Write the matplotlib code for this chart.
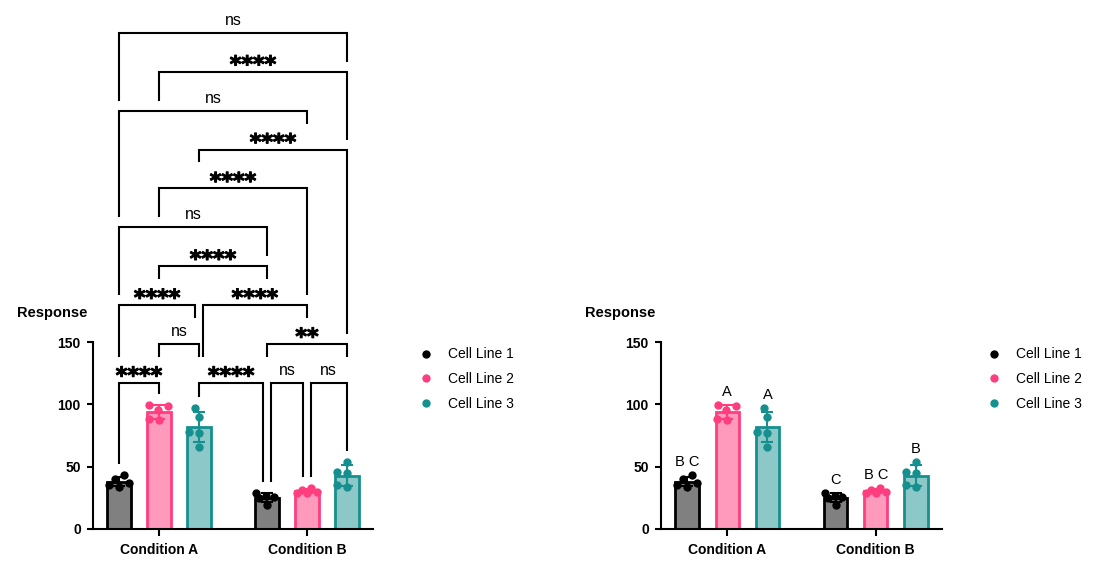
import matplotlib
matplotlib.use('Agg')
import matplotlib.pyplot as plt
from matplotlib.lines import Line2D
import matplotlib.patheffects as pe
import numpy as np

plt.rcParams['font.family'] = ['Liberation Sans', 'DejaVu Sans']

W, H, DPI = 1112, 571, 100

# ---------------- data ----------------
groups = ['Condition A', 'Condition B']
series = ['Cell Line 1', 'Cell Line 2', 'Cell Line 3']

cond_a_line1 = [40.5, 43.0, 37.0, 34.0, 35.5]
cond_a_line2 = [98.5, 99.5, 95.5, 87.5, 88.0]
cond_a_line3 = [97.0, 89.5, 78.0, 77.0, 66.0]
cond_b_line1 = [25.5, 29.0, 26.5, 19.5, 25.0]
cond_b_line2 = [31.0, 33.0, 30.0, 28.5, 29.0]
cond_b_line3 = [54.0, 45.5, 45.0, 34.0, 35.5]

values = [[cond_a_line1, cond_a_line2, cond_a_line3],
          [cond_b_line1, cond_b_line2, cond_b_line3]]

# bars indexed 0..5 : A1 A2 A3 B1 B2 B3
comparison_pairs = [(0, 1), (2, 3), (3, 4), (4, 5), (1, 2), (3, 5), (0, 2), (2, 4),
                    (1, 3), (0, 3), (1, 4), (2, 5), (0, 4), (1, 5), (0, 5)]
comparison_labels = ['****', '****', 'ns', 'ns', 'ns', '**', '****', '****',
                     '****', 'ns', '****', '****', 'ns', '****', 'ns']
comparison_levels = [0, 0, 0, 0, 1, 1, 2, 2, 3, 4, 5, 6, 7, 8, 9]

compact_letters = ['B C', 'A', 'A', 'C', 'B C', 'B']

y_ticks = [0, 50, 100, 150]
y_label = 'Response'

edge_colors = ['#000000', '#FF3D7F', '#16908F']
fill_colors = ['#808080', '#FF9ABD', '#8BC8C7']

# ---------------- layout ----------------
GROUP_GAP = 0.7
BAR_W = 0.58
YMAX = 150

fig = plt.figure(figsize=(W / DPI, H / DPI), dpi=DPI)


def add_axes_px(l, t, r, b):
    return fig.add_axes([l / W, 1 - b / H, (r - l) / W, (b - t) / H])


AX1 = (93, 342, 373, 529)
AX2 = (661, 342, 942, 529)
ax1 = add_axes_px(*AX1)
ax2 = add_axes_px(*AX2)

n_s = len(series)
bar_x = [g * (n_s + GROUP_GAP) + s for g in range(len(groups)) for s in range(n_s)]
bar_vals = [np.asarray(values[g][s], float) for g in range(len(groups)) for s in range(n_s)]
bar_series = [s for g in range(len(groups)) for s in range(n_s)]
group_x = [g * (n_s + GROUP_GAP) + (n_s - 1) / 2 for g in range(len(groups))]
XLIM = (bar_x[0] - 0.65, bar_x[-1] + 0.65)

ppx = (AX1[2] - AX1[0]) / (XLIM[1] - XLIM[0])
ppy = (AX1[3] - AX1[1]) / YMAX

MS = 6.0


def swarm_offsets(vals, d_px=10.0, max_px=10.5):
    order = np.argsort(vals, kind='stable')
    placed = []
    out = np.zeros(len(vals))
    cands = [0.0]
    k = 1
    while k * 0.25 <= max_px:
        cands += [-k * 0.25, k * 0.25]
        k += 1
    for i in order:
        y = vals[i] * ppy
        best, best_d = None, -1
        chosen = None
        for c in cands:
            md = min([np.hypot(c - px, y - py) for px, py in placed] or [1e9])
            if md >= d_px:
                chosen = c
                break
            if md > best_d:
                best, best_d = c, md
        if chosen is None:
            chosen = best
        placed.append((chosen, y))
        out[i] = chosen / ppx
    return out


def setup(ax):
    ax.set_xlim(*XLIM)
    ax.set_ylim(0, YMAX)
    for sp in ['top', 'right']:
        ax.spines[sp].set_visible(False)
    for sp in ['left', 'bottom']:
        ax.spines[sp].set_linewidth(1.5)
    ax.set_yticks(y_ticks)
    ax.set_yticklabels([str(v) for v in y_ticks], fontweight='bold', fontsize=10)
    ax.set_xticks(group_x)
    ax.set_xticklabels(groups, fontweight='bold', fontsize=10)
    ax.tick_params(axis='y', length=4.3, width=1.5, pad=4.5)
    ax.tick_params(axis='x', length=5, width=1.5, pad=5)
    ax.patch.set_alpha(0)


def draw_bars(ax):
    for x, vals, s in zip(bar_x, bar_vals, bar_series):
        m = vals.mean()
        sd = vals.std(ddof=1)
        ax.bar(x, m, width=BAR_W, color=fill_colors[s], edgecolor=edge_colors[s],
               linewidth=2, zorder=2)
        ax.errorbar(x, m, yerr=sd, color=edge_colors[s], capsize=4.3,
                    elinewidth=1.5, capthick=1.5, zorder=3, fmt='none')
        offs = swarm_offsets(vals)
        ax.plot(x + offs, vals, ls='none', marker='o', ms=MS, color=edge_colors[s],
                mec='none', zorder=4, clip_on=False)


def add_legend(ax, left_px, top_px):
    handles = [Line2D([], [], ls='none', marker='o', ms=MS, color=c, mec='none')
               for c in edge_colors]
    ax.legend(handles, series, loc='upper left',
              bbox_to_anchor=(left_px / W, 1 - top_px / H),
              bbox_transform=fig.transFigure, frameon=False, fontsize=10,
              handlelength=1.0, handletextpad=1.1, labelspacing=0.78,
              borderpad=0, borderaxespad=0)


for ax, box in [(ax1, AX1), (ax2, AX2)]:
    setup(ax)
    draw_bars(ax)
    add_legend(ax, box[0] + 326, 347.5)
    fig.text((box[0] - 76) / W, 1 - 313 / H, y_label, fontweight='bold',
             fontsize=10.5, ha='left', va='center')

# ---------------- compact letters (right) ----------------
for x, vals, lab in zip(bar_x, bar_vals, compact_letters):
    ax2.text(x, vals.max() + 9 / ppy, lab, ha='center', va='baseline', fontsize=10.5,
             clip_on=False)

# ---------------- significance brackets (left) ----------------
renderer = fig.canvas.get_renderer()
BASE_PX = 22
STEP_PX = 38.9
LINE_GAP = 10
LABEL_TOP = 17
LABEL_GAP = 9
DATA_GAP = 11
SHIFT = 3.7
ASTER_FS = 16
NS_FS = 11.5
ASTER_EM = ASTER_FS * DPI / 72

data_top = [max(v.max(), v.mean() + v.std(ddof=1)) * ppy + DATA_GAP for v in bar_vals]
base = max(v.max() for v in bar_vals) * ppy + BASE_PX

brs = []
for (i, j), lab, lev in zip(comparison_pairs, comparison_labels, comparison_levels):
    y = base + lev * STEP_PX
    xl = bar_x[i] * ppx
    xr = bar_x[j] * ppx
    for (a, b), lv2 in zip(comparison_pairs, comparison_levels):
        if lv2 != lev:
            continue
        if b == i:
            xl += SHIFT
        if a == j:
            xr -= SHIFT
    cx = (xl + xr) / 2
    if lab == 'ns':
        t = ax1.text(cx / ppx, (y + 8) / ppy, lab, ha='center', va='baseline',
                     fontsize=NS_FS, clip_on=False)
        pad = 10.5
    else:
        t = ax1.text(cx / ppx, (y + 13 - 0.58 * ASTER_EM) / ppy, lab, ha='center',
                     va='baseline', fontsize=ASTER_FS, fontweight='bold',
                     family='DejaVu Sans', clip_on=False,
                     path_effects=[pe.withStroke(linewidth=0.8, foreground='black')])
        pad = 13
    w = t.get_window_extent(renderer).width
    brs.append(dict(i=i, j=j, lev=lev, y=y, xl=xl, xr=xr, cx=cx, half=w / 2 + pad))


def leg_bottom(br, xe, bar_idx):
    bottom = data_top[bar_idx]
    for o in brs:
        if o['lev'] >= br['lev']:
            continue
        if o['xl'] - 1 <= xe <= o['xr'] + 1:
            bottom = max(bottom, o['y'] + LINE_GAP)
        if abs(xe - o['cx']) <= o['half']:
            bottom = max(bottom, o['y'] + LABEL_TOP + LABEL_GAP)
    return bottom


for br in brs:
    bl = leg_bottom(br, br['xl'], br['i'])
    brr = leg_bottom(br, br['xr'], br['j'])
    xs = np.array([br['xl'], br['xl'], br['xr'], br['xr']]) / ppx
    ys = np.array([bl, br['y'], br['y'], brr]) / ppy
    ax1.plot(xs, ys, color='black', lw=1.5, clip_on=False, zorder=5,
             solid_joinstyle='miter', solid_capstyle='butt')

fig.savefig('out.png', dpi=DPI)
